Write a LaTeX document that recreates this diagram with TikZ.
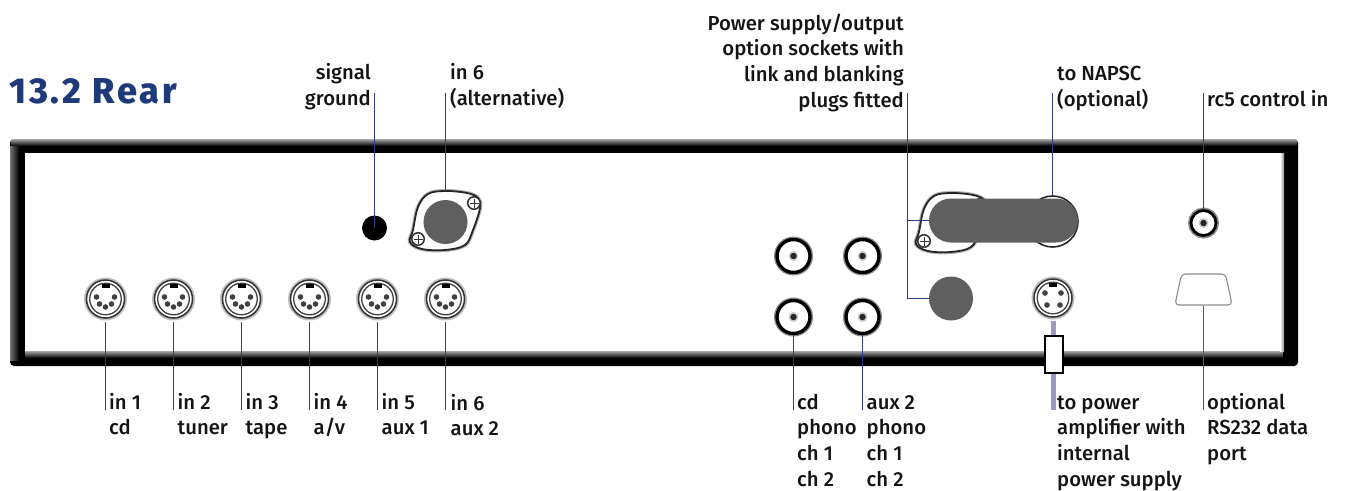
\documentclass[tikz,border=0pt]{standalone}
\usepackage{fontspec}
\setmainfont{Fira Sans}[UprightFont=* Medium]
\newfontfamily\titlefont{Fira Sans}[UprightFont=* ExtraBold, LetterSpace=8]
\usepackage{xcolor}
\usetikzlibrary{positioning, shapes.geometric}
\definecolor{leadblue}{HTML}{2B3F86}
\definecolor{cablepurple}{HTML}{9A9AC2}
\definecolor{plugfill}{HTML}{5F5F5F}
\definecolor{titleblue}{HTML}{1F3A7A}
\tikzstyle{label} = [inner sep=0pt, anchor=base west, align=left, text=black!92, font=\fontsize{20.3}{25.6}\selectfont]
\tikzstyle{labelr} = [label, anchor=base east, align=right]
\tikzstyle{lead} = [draw=leadblue, line width=1.25pt]
\tikzstyle{din} = [circle, minimum size=38pt, inner sep=0pt, outer sep=4pt, draw=black!80, line width=1.5pt, fill=white, preaction={draw=black!25, line width=5pt}]
\tikzstyle{din5} = [din, path picture={
  \begin{scope}[shift={(path picture bounding box.center)}]
  \draw[black!75, line width=1.3pt] (0,0) circle (15.8);
  \fill[black] (-4,-15) rectangle (4,-11.5);
  \foreach \px/\py in {-9/-2, 9/-2, -6/5, 0/8, 6/5} \fill[black!75] (\px,\py) circle (2.8);
  \end{scope}}]
\tikzstyle{din4} = [din, path picture={
  \begin{scope}[shift={(path picture bounding box.center)}]
  \draw[black!75, line width=1.3pt] (0,0) circle (15.8);
  \fill[black] (-4,-15) rectangle (4,-11.5);
  \foreach \px/\py in {-8/-5, 8/-5, -6/7, 7/7} \fill[black!75] (\px,\py) circle (2.8);
  \end{scope}}]
\tikzstyle{rca} = [circle, minimum size=33pt, inner sep=0pt, outer sep=1pt, draw=black, line width=3.4pt, fill=white, preaction={draw=black!45, line width=6pt}, path picture={
  \fill[black!20] (path picture bounding box.center) circle (5);
  \fill[black!85] (path picture bounding box.center) circle (3.2);}]
\tikzstyle{rcasmall} = [rca, minimum size=25pt, line width=2.8pt, preaction={draw=black!45, line width=5pt}]
\tikzstyle{plug} = [circle, minimum size=44pt, inner sep=0pt, outer sep=0pt, fill=plugfill]
\tikzstyle{screw} = [circle, minimum size=12.5pt, inner sep=0pt, draw=black!80, line width=1.5pt, fill=white, path picture={
  \draw[black!80, line width=1pt] ([xshift=-4.5pt]path picture bounding box.center) -- ([xshift=4.5pt]path picture bounding box.center);
  \draw[black!80, line width=1pt] ([yshift=-4.5pt]path picture bounding box.center) -- ([yshift=4.5pt]path picture bounding box.center);}]
\newcommand{\flange}[3]{
  \draw[shift={(#2,#3)}, draw=black!85, line width=1.8pt, fill=white, preaction={draw=black!30, line width=4pt}] plot[smooth cycle, tension=.6] coordinates {(0,-31) (-17,-28) (-27,-15) (-32,8) (-35,20) (-23,27) (0,28) (20,23) (28,8) (35,-14) (33,-24) (22,-29)};
  \node (#1a) [screw] at (#2+29,#3-19) {};
  \node (#1b) [screw] at (#2-27,#3+17) {};
}
\begin{document}
\begin{tikzpicture}[x=1pt, y=-1pt]
\useasboundingbox (0,0) rectangle (1351,490);

% the case
\fill[black, rounded corners=4pt] (10,139) rectangle (1298,366);
\shade[top color=black!35, bottom color=black, rounded corners=2pt] (11,139) rectangle (1297,146);
\shade[left color=black!55, right color=black] (10,146) rectangle (19,360);
\fill[white] (25,153) rectangle (1283,351);
\shade[top color=black!35, bottom color=black] (25,351) rectangle (1283,358);
\shade[left color=white, right color=black!45] (1280,153) rectangle (1284,351);

% sockets
\node (din1) [din5] at (105.5,299) {};
\node (din2) [din5] at (173.5,299) {};
\node (din3) [din5] at (241.5,299) {};
\node (din4) [din5] at (309.5,299) {};
\node (din5) [din5] at (377.5,299) {};
\node (din6) [din5] at (445.5,299) {};
\node (gnd) [circle, minimum size=25pt, inner sep=0pt, fill=black] at (374.5,228) {};
\flange{alt}{445}{222}
\node (alt) [plug] at (445.5,222) {};
\node (cd1) [rca] at (793.5,256) {};
\node (aux1) [rca] at (862.5,256) {};
\node (cd2) [rca] at (793.5,317) {};
\node (aux2) [rca] at (862.5,317) {};
\flange{opt}{951}{224}
\node (ring) [circle, minimum size=51pt, inner sep=0pt, draw=black!85, line width=1.6pt, fill=white] at (1052.5,221.5) {};
\node (pill) [rectangle, rounded corners=22pt, minimum width=149pt, minimum height=44pt, inner sep=0pt, outer sep=0pt, fill=plugfill] at (1003.5,220.5) {};
\node (blank) [plug] at (951,298.5) {};
\node (amp) [din4] at (1053,298) {};
\node (rc5) [rcasmall] at (1203.5,223) {};
\node (rs232) [trapezium, trapezium left angle=78, trapezium right angle=78, inner sep=0pt, rounded corners=4pt, draw=black!45, line width=1.1pt, fill=white] at (1203.5,289.5) {\hspace{44pt}\rule{0pt}{31pt}};

% labels
\node (title) [font=\titlefont\fontsize{36}{36}\selectfont, text=titleblue, inner sep=0pt, anchor=base west] at (9,103) {13.2 Rear};
\node (lgnd) [labelr] at (371,105) {signal\\ground};
\node (lalt) [label] at (450,105) {in 6\\(alternative)};
\node (lpsu) [labelr] at (904,107) {Power supply/output\\option sockets with\\link and blanking\\plugs fitted};
\node (lnapsc) [label] at (1057,106.5) {to NAPSC\\(optional)};
\node (lrc5) [label] at (1207,106) {rc5 control in};
\node (lin1) [label] at (109,434.9) {in 1\\cd};
\node (lin2) [label] at (177.5,434.9) {in 2\\tuner};
\node (lin3) [label] at (245.5,434.9) {in 3\\tape};
\node (lin4) [label] at (313.5,434.9) {in 4\\a/v};
\node (lin5) [label] at (381.5,434.9) {in 5\\aux 1};
\node (lin6) [label] at (450.5,435.9) {in 6\\aux 2};
\node (lcd) [label] at (797,486.1) {cd\\phono\\ch 1\\ch 2};
\node (laux) [label] at (866.5,486.1) {aux 2\\phono\\ch 1\\ch 2};
\node (lamp) [label] at (1057,486.1) {to power\\amplifier with\\internal\\power supply};
\node (lrs) [label] at (1207,460.5) {optional\\RS232 data\\port};

% free ends of the leads
\coordinate (up1) at (374.5,93);
\coordinate (up2) at (445.5,93);
\coordinate (up3) at (907.5,93);
\coordinate (up4) at (1052.5,93);
\coordinate (up5) at (1203.5,93);
\coordinate (down) at (0,410);

% leads
\draw[lead] (gnd.center) -- (up1);
\draw[lead] (alt.north) ++(0,-9) -- (up2);
\draw[lead] (ring.north) -- (up4);
\draw[lead] (rc5.north) -- (up5);
\draw[lead] (up3) -- (up3 |- blank.west) -- (blank.west);
\draw[lead] (up3 |- pill.west) -- (pill.west);
\draw[lead] (din1.south) -- (din1.south |- down);
\draw[lead] (din2.south) -- (din2.south |- down);
\draw[lead] (din3.south) -- (din3.south |- down);
\draw[lead] (din4.south) -- (din4.south |- down);
\draw[lead] (din5.south) -- (din5.south |- down);
\draw[lead] (din6.south) -- (din6.south |- down);
\draw[lead] (cd2.south) -- (cd2.south |- down);
\draw[lead] (aux2.south) -- (aux2.south |- down);
\draw[draw=black!65, line width=1.25pt] (rs232.south) -- (rs232.south |- down);
\draw[draw=cablepurple, line width=5pt] (amp.south) -- (amp.south |- down);
\node (strain) [rectangle, draw=black, line width=2pt, fill=white, minimum width=18pt, minimum height=37pt, inner sep=0pt] at (1053.5,354) {};
\end{tikzpicture}
\end{document}
